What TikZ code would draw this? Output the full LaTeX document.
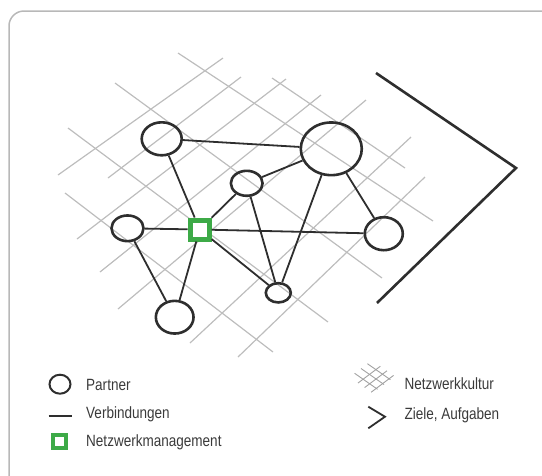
\documentclass[tikz,border=0pt]{standalone}
\usepackage{fontspec}
\setmainfont[FakeStretch=0.83]{Liberation Sans}
\usetikzlibrary{shapes.geometric}

\definecolor{ink}{HTML}{2E2E2E}
\definecolor{gridgray}{HTML}{BDBDBD}
\definecolor{framegray}{HTML}{B8B8B8}
\definecolor{mgreen}{HTML}{3DAA47}
\definecolor{txt}{HTML}{3A3A3A}

\begin{document}
\begin{tikzpicture}[x=1pt,y=-1pt,
  partner/.style={ellipse, draw=ink, line width=2.6pt, inner sep=0pt},
  link/.style={draw=ink, line width=1.8pt},
  culture/.style={draw=gridgray, line width=1.2pt},
  mgmt/.style={rectangle, draw=mgreen, fill=white, line width=5pt, minimum size=19pt, inner sep=0pt},
  goal/.style={draw=ink, line width=2.6pt, line join=miter},
  legendtext/.style={anchor=base west, text=txt, inner sep=0pt, font=\fontsize{16.3}{18}\selectfont}
]
\useasboundingbox (0,0) rectangle (542,475);

% outer frame
\begin{scope}
  \clip (0,0) rectangle (542,475);
  \draw[framegray, line width=1.5pt, rounded corners=15pt] (9,11) rectangle (556,490);
\end{scope}

% network culture grid (perspective lattice)
\foreach \ax/\ay/\bx/\by in {
   58/175/223/58, 108/178/241/77, 77/239/286/79, 100/272/321/95,
   118/309/366/100, 190/343/411/137, 238/357/425/177,
   272/78/405/168, 178/53/433/221, 115/83/382/278, 68/128/328/322, 65/193/273/352}
  \draw[culture] (\ax,\ay) -- (\bx,\by);

% partners
\node[partner, minimum width=40pt, minimum height=33pt] (p1) at (161.7,138.8) {};
\node[partner, minimum width=61pt, minimum height=52.7pt] (big) at (331.3,148.8) {};
\node[partner, minimum width=31.7pt, minimum height=25pt] (mid) at (246.7,183.3) {};
\node[partner, minimum width=32pt, minimum height=25.7pt] (left) at (127.5,228.3) {};
\node[partner, minimum width=38pt, minimum height=33pt] (right) at (383.8,233.7) {};
\node[partner, minimum width=25pt, minimum height=19.3pt] (small) at (278.3,292.8) {};
\node[partner, minimum width=37.7pt, minimum height=32.7pt] (bottom) at (174.7,317.2) {};

% network management
\node[mgmt] (m) at (199.7,229.5) {};

% connections
\draw[link] (p1) -- (big);
\draw[link] (p1) -- (m);
\draw[link] (mid) -- (big);
\draw[link] (mid) -- (m);
\draw[link] (mid) -- (small);
\draw[link] (big) -- (small);
\draw[link] (big) -- (right);
\draw[link] (left) -- (m);
\draw[link] (m) -- (right);
\draw[link] (left) -- (bottom);
\draw[link] (m) -- (bottom);
\draw[link] (m) -- (small);

% goals and tasks
\coordinate (g1) at (376,73);
\coordinate (g2) at (516,168);
\coordinate (g3) at (377,303);
\draw[goal] (g1) -- (g2) -- (g3);

% legend
\node[ellipse, draw=ink, line width=2pt, minimum width=21pt, minimum height=19pt, inner sep=0pt] (lp) at (60,384.2) {};
\node[legendtext] (tp) at (86,390) {Partner};

\coordinate (lv1) at (48.5,416);
\coordinate (lv2) at (71.5,416);
\draw[draw=ink, line width=1.8pt] (lv1) -- (lv2);
\node[legendtext] (tv) at (86,418.5) {Verbindungen};

\node[rectangle, draw=mgreen, fill=white, line width=4pt, minimum size=13pt, inner sep=0pt] (lm) at (59.2,441.7) {};
\node[legendtext] (tm) at (86,446.5) {Netzwerkmanagement};

% small lattice icon
\foreach \ax/\ay/\bx/\by in {
   354.6/373.3/377.6/389.3, 361.0/368.5/384.0/384.5, 367.4/363.7/390.4/379.7,
   358.0/383.0/380.4/366.2, 364.6/387.6/387.0/370.8, 371.2/392.2/393.6/375.4}
  \draw[draw=gridgray!85!black, line width=0.9pt] (\ax,\ay) -- (\bx,\by);
\node[legendtext] (tk) at (404.3,389) {Netzwerkkultur};

\coordinate (lz1) at (368.3,406.7);
\coordinate (lz2) at (385,416.7);
\coordinate (lz3) at (368.3,428.3);
\draw[draw=ink, line width=1.8pt, line join=miter] (lz1) -- (lz2) -- (lz3);
\node[legendtext] (tz) at (404.3,419.5) {Ziele, Aufgaben};
\end{tikzpicture}
\end{document}
